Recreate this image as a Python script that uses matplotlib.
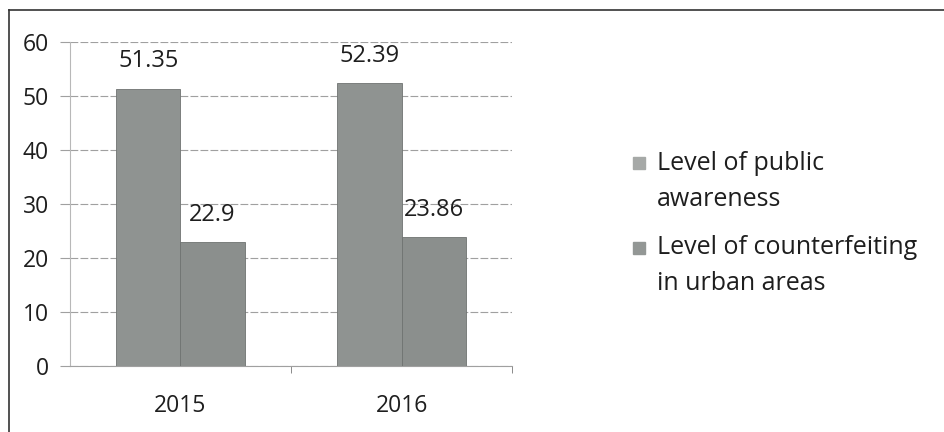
import numpy as np
import matplotlib.pyplot as plt
from matplotlib.lines import Line2D
from matplotlib.patches import Rectangle

# data
years = ['2015', '2016']
public_awareness = [51.35, 52.39]
counterfeiting = [22.9, 23.86]
series_names = ['Level of public\nawareness', 'Level of counterfeiting\nin urban areas']

plt.rcParams['font.family'] = ['Open Sans', 'DejaVu Sans']

W, H = 945, 432
fig = plt.figure(figsize=(W / 100, H / 100), dpi=100)
ax = fig.add_axes([0.074, 0.153, 0.468, 0.750])

x = np.arange(len(years))
w = 0.29
b1 = ax.bar(x - w / 2, public_awareness, w, color='#8f9391', edgecolor='#6f7371', linewidth=0.6, zorder=3)
b2 = ax.bar(x + w / 2, counterfeiting, w, color='#8b8f8d', edgecolor='#6f7371', linewidth=0.6, zorder=3)

for bars, vals in ((b1, public_awareness), (b2, counterfeiting)):
    for r, v in zip(bars, vals):
        ax.annotate(str(v), (r.get_x() + r.get_width() / 2, v), xytext=(0, 11),
                    textcoords='offset points', ha='center', va='bottom', fontsize=17, color='#1e1e1e')

ax.set_xlim(-0.5, 1.5)
ax.set_ylim(0, 60)
ax.set_yticks(range(0, 61, 10))
ax.yaxis.grid(True, color='#a0a0a0', linewidth=0.8, linestyle=(0, (7, 2)), zorder=0)
ax.set_xticks([0, 1])
ax.set_xticklabels(years)
ax.set_xticks([0.5, 1.5], minor=True)
ax.tick_params(axis='x', which='major', length=0, pad=20, labelsize=16.5, labelcolor='#1e1e1e')
ax.tick_params(axis='x', which='minor', length=5, color='#777777', direction='out')
ax.tick_params(axis='y', length=7, color='#a0a0a0', pad=8, labelsize=16.5, labelcolor='#1e1e1e')
for s in ['top', 'right']:
    ax.spines[s].set_visible(False)
ax.spines['left'].set_color('#b8b8b8')
ax.spines['bottom'].set_color('#a0a0a0')

# legend drawn by hand so the marker sits on the first text line
leg_cols = ['#a6a9a7', '#939795']
first_line_y = [163, 248]
for name, col, yy in zip(series_names, leg_cols, first_line_y):
    fig.add_artist(Rectangle((633 / W, 1 - (yy + 6) / H), 12 / W, 12 / H,
                             transform=fig.transFigure, facecolor=col, edgecolor=col))
    for k, line in enumerate(name.split('\n')):
        fig.text(657 / W, 1 - (yy + k * 36) / H, line, fontsize=18, color='#1e1e1e',
                 ha='left', va='center')

# scanned frame around the chart
fig.add_artist(Line2D([0.009, 0.009], [0.0, 0.977], color='#333333', linewidth=1.2))
fig.add_artist(Line2D([0.009, 1.0], [0.977, 0.977], color='#333333', linewidth=1.2))

fig.savefig('out.png', dpi=100)
